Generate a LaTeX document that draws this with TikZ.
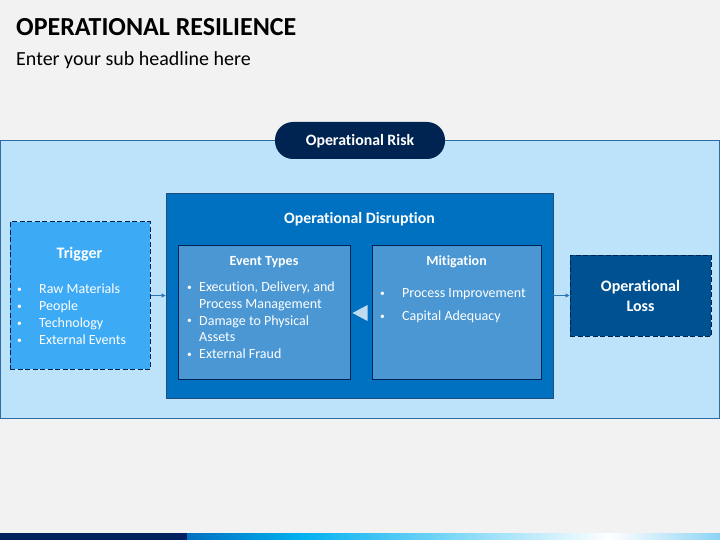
\documentclass[tikz,border=0pt]{standalone}
\usepackage{fontspec}
\setmainfont{Carlito}[Ligatures=NoCommon]
\usetikzlibrary{arrows.meta}
\definecolor{bgc}{HTML}{F2F2F2}
\definecolor{outerfill}{HTML}{BDE3FB}
\definecolor{outerline}{HTML}{2E6DA4}
\definecolor{navy}{HTML}{002451}
\definecolor{disfill}{HTML}{0070C0}
\definecolor{disline}{HTML}{1F4E79}
\definecolor{innerfill}{HTML}{4A97D3}
\definecolor{trigfill}{HTML}{3DAAF5}
\definecolor{lossfill}{HTML}{005191}
\definecolor{arrowc}{HTML}{2E75B6}
\definecolor{barnavy}{HTML}{002060}
\definecolor{barblue}{HTML}{0070C0}
\definecolor{barcyan}{HTML}{00B0F0}
\definecolor{barlight}{HTML}{8DD3F5}
\newcommand{\smbul}[1]{\makebox[#1][l]{\hspace*{1pt}\raisebox{1.4pt}{\fontsize{9.5}{9.5}\selectfont •}}}
\tikzset{
  box/.style={draw, line width=0.8pt, inner sep=0pt},
  dbox/.style={box, dashed, dash pattern=on 5pt off 2.5pt, draw=navy, line width=1pt},
  wtxt/.style={text=white, inner sep=0pt},
  conn/.style={-{Triangle[length=4pt,width=4pt]}, draw=arrowc, line width=0.6pt},
}
\begin{document}
\begin{tikzpicture}[x=1pt,y=-1pt]
\useasboundingbox (0,0) rectangle (720,540);
\fill[bgc] (0,0) rectangle (720,540);
% bottom bar
\fill[barnavy] (0,533) rectangle (187,540);
\shade[left color=barblue,right color=barcyan] (187,533) rectangle (300,540);
\shade[left color=barcyan,right color=white] (299.5,533) rectangle (610,540);
\shade[left color=white,right color=barlight] (609.5,533) rectangle (720,540);
% titles
\node[anchor=base west, inner sep=0pt, font=\fontsize{26}{30}\selectfont\bfseries] (title) at (16,36) {OPERATIONAL RESILIENCE};
\node[anchor=base west, inner sep=0pt, font=\fontsize{20}{24}\selectfont] (sub) at (16,66) {Enter your sub headline here};
% outer box
\path[box, draw=outerline, fill=outerfill] (0.5,140) rectangle (719.5,418);
\node[fill=navy, rounded corners=18pt, minimum width=170pt, minimum height=37pt, inner sep=0pt] (risk) at (360,140.5) {};
\node[wtxt, font=\fontsize{15.8}{18}\selectfont\bfseries, anchor=base] (risktxt) at (360,146) {Operational Risk};
% disruption
\node[box, draw=disline, fill=disfill, minimum width=387pt, minimum height=205pt] (dis) at (359.5,295.5) {};
\node[wtxt, font=\fontsize{15.8}{18}\selectfont\bfseries, anchor=base] (distitle) at (359.5,223) {Operational Disruption};
% event types
\node[box, draw=navy, fill=innerfill, minimum width=172pt, minimum height=134pt] (ev) at (264,312) {};
\node[wtxt, font=\fontsize{14}{16}\selectfont\bfseries, anchor=base] (evtitle) at (264,265.5) {Event Types};
\node[wtxt, anchor=base west, align=left, font=\fontsize{14}{16.7}\selectfont] (evlist) at (186,358.5) {%
\smbul{13pt}Execution, Delivery, and\\
\hspace*{13pt}Process Management\\
\smbul{13pt}Damage to Physical\\
\hspace*{13pt}Assets\\
\smbul{13pt}External Fraud};
% mitigation
\node[box, draw=navy, fill=innerfill, minimum width=169pt, minimum height=134pt] (mit) at (456.5,312) {};
\node[wtxt, font=\fontsize{14}{16}\selectfont\bfseries, anchor=base] (mittitle) at (456.5,265.5) {Mitigation};
\node[wtxt, anchor=base west, align=left, font=\fontsize{14}{22.8}\selectfont] (mitlist) at (379,320.5) {%
\smbul{23pt}Process Improvement\\
\smbul{23pt}Capital Adequacy};
% triangle between
\fill[innerfill!35!white, draw=none] (352.5,313) -- (367.5,305) -- (367.5,321) -- cycle;
% trigger
\node[dbox, fill=trigfill, minimum width=140pt, minimum height=147pt] (trig) at (80,295.5) {};
\node[wtxt, font=\fontsize{16}{18}\selectfont\bfseries, anchor=base] (trigtitle) at (79.5,258.5) {Trigger};
\node[wtxt, anchor=base west, align=left, font=\fontsize{14}{16.9}\selectfont] (triglist) at (16,344.5) {%
\smbul{23pt}Raw Materials\\
\smbul{23pt}People\\
\smbul{23pt}Technology\\
\smbul{23pt}External Events};
% loss
\node[dbox, fill=lossfill, minimum width=141pt, minimum height=81pt] (loss) at (640.5,295.5) {};
\node[wtxt, font=\fontsize{16}{19.5}\selectfont\bfseries, align=center] (losstxt) at (640.5,296) {Operational\\Loss};
% connectors
\draw[conn] (trig.east) -- (dis.west);
\draw[conn] (dis.east) -- (loss.west);
\end{tikzpicture}
\end{document}
